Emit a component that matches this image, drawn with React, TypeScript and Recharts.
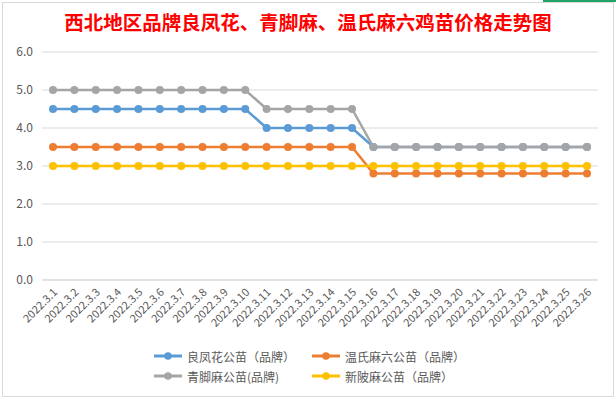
import React from 'react';
import { LineChart, Line, XAxis, YAxis, CartesianGrid } from 'recharts';

const dates = [
  '2022.3.1', '2022.3.2', '2022.3.3', '2022.3.4', '2022.3.5', '2022.3.6', '2022.3.7',
  '2022.3.8', '2022.3.9', '2022.3.10', '2022.3.11', '2022.3.12', '2022.3.13', '2022.3.14',
  '2022.3.15', '2022.3.16', '2022.3.17', '2022.3.18', '2022.3.19', '2022.3.20', '2022.3.21',
  '2022.3.22', '2022.3.23', '2022.3.24', '2022.3.25', '2022.3.26',
];

const liangFengHua = [
  4.5, 4.5, 4.5, 4.5, 4.5, 4.5, 4.5, 4.5, 4.5, 4.5, 4.0, 4.0, 4.0, 4.0, 4.0,
  3.5, 3.5, 3.5, 3.5, 3.5, 3.5, 3.5, 3.5, 3.5, 3.5, 3.5,
];
const wenShiMaLiu = [
  3.5, 3.5, 3.5, 3.5, 3.5, 3.5, 3.5, 3.5, 3.5, 3.5, 3.5, 3.5, 3.5, 3.5, 3.5,
  2.8, 2.8, 2.8, 2.8, 2.8, 2.8, 2.8, 2.8, 2.8, 2.8, 2.8,
];
const qingJiaoMa = [
  5.0, 5.0, 5.0, 5.0, 5.0, 5.0, 5.0, 5.0, 5.0, 5.0, 4.5, 4.5, 4.5, 4.5, 4.5,
  3.5, 3.5, 3.5, 3.5, 3.5, 3.5, 3.5, 3.5, 3.5, 3.5, 3.5,
];
const xinPiMa = [
  3.0, 3.0, 3.0, 3.0, 3.0, 3.0, 3.0, 3.0, 3.0, 3.0, 3.0, 3.0, 3.0, 3.0, 3.0,
  3.0, 3.0, 3.0, 3.0, 3.0, 3.0, 3.0, 3.0, 3.0, 3.0, 3.0,
];

const yTicks = [0, 1, 2, 3, 4, 5, 6];

// legend order follows the reference (two columns)
const SERIES = [
  { key: 'lfh', name: '良凤花公苗（品牌）', color: '#5B9BD5' },
  { key: 'wsml', name: '温氏麻六公苗（品牌）', color: '#ED7D31' },
  { key: 'qjm', name: '青脚麻公苗(品牌)', color: '#A5A5A5' },
  { key: 'xpm', name: '新陂麻公苗（品牌）', color: '#FFC000' },
];

const data = dates.map((d, i) => ({
  date: d,
  lfh: liangFengHua[i],
  wsml: wenShiMaLiu[i],
  qjm: qingJiaoMa[i],
  xpm: xinPiMa[i],
}));

const FONT = '"Noto Sans CJK SC", "Noto Sans", sans-serif';

function DateTick({ x, y, payload }: { x?: number; y?: number; payload?: { value: string } }) {
  const tx = (x ?? 0) + 5;
  const ty = (y ?? 0) + 5;
  return (
    <text
      x={tx}
      y={ty}
      transform={`rotate(-45, ${tx}, ${ty})`}
      textAnchor="end"
      fontSize={11}
      fill="#595959"
      fontFamily={FONT}
    >
      {payload?.value}
    </text>
  );
}

function LegendBox() {
  return (
    <div
      style={{
        position: 'absolute',
        left: 153,
        top: 347,
        display: 'grid',
        gridTemplateColumns: '158px 160px',
        rowGap: 2,
        fontFamily: FONT,
        fontSize: 12,
        color: '#595959',
      }}
    >
      {SERIES.map((s) => (
        <div key={s.key} style={{ display: 'flex', alignItems: 'center', height: 18 }}>
          <svg width={30} height={10} style={{ marginRight: 4 }}>
            <line x1={1} y1={5} x2={29} y2={5} stroke={s.color} strokeWidth={3} />
            <circle cx={15} cy={5} r={3.8} fill={s.color} />
          </svg>
          <span>{s.name}</span>
        </div>
      ))}
    </div>
  );
}

export default function App() {
  return (
    <div
      style={{
        position: 'absolute',
        left: 0,
        top: 0,
        width: 616,
        height: 399,
        background: '#fff',
        overflow: 'hidden',
      }}
    >
      {/* chart frame and a bit of the sheet selection */}
      <div style={{ position: 'absolute', left: 2, top: 2, width: 610, height: 393, border: '1px solid #d9d9d9' }} />
      <div style={{ position: 'absolute', left: 543, top: 0, width: 73, height: 2, background: '#21a366' }} />
      <div
        style={{
          position: 'absolute',
          left: 0,
          top: 8,
          width: 616,
          textAlign: 'center',
          color: '#ff0000',
          fontFamily: FONT,
          fontWeight: 700,
          fontSize: 19.5,
          lineHeight: '28px',
        }}
      >
        西北地区品牌良凤花、青脚麻、温氏麻六鸡苗价格走势图
      </div>
      <div style={{ position: 'absolute', left: 0, top: 0 }}>
        <LineChart width={616} height={399} data={data} margin={{ top: 52, right: 18, left: 0, bottom: 59 }}>
          <CartesianGrid vertical={false} stroke="#d9d9d9" />
          <XAxis
            dataKey="date"
            interval={0}
            height={60}
            axisLine={{ stroke: '#d9d9d9' }}
            tickLine={false}
            padding={{ left: 11, right: 11 }}
            tick={<DateTick />}
          />
          <YAxis
            domain={[0, 6]}
            ticks={yTicks}
            width={42}
            axisLine={false}
            tickLine={false}
            tickSize={0}
            tickMargin={9}
            tickFormatter={(v: number) => v.toFixed(1)}
            tick={{ fontSize: 12, fill: '#595959', fontFamily: FONT }}
          />
          {SERIES.map((s) => (
            <Line
              key={s.key}
              dataKey={s.key}
              name={s.name}
              stroke={s.color}
              strokeWidth={2.5}
              dot={{ r: 4, fill: s.color, stroke: s.color, strokeWidth: 0 }}
              activeDot={false}
              type="linear"
              isAnimationActive={false}
            />
          ))}
        </LineChart>
      </div>
      <LegendBox />
    </div>
  );
}
